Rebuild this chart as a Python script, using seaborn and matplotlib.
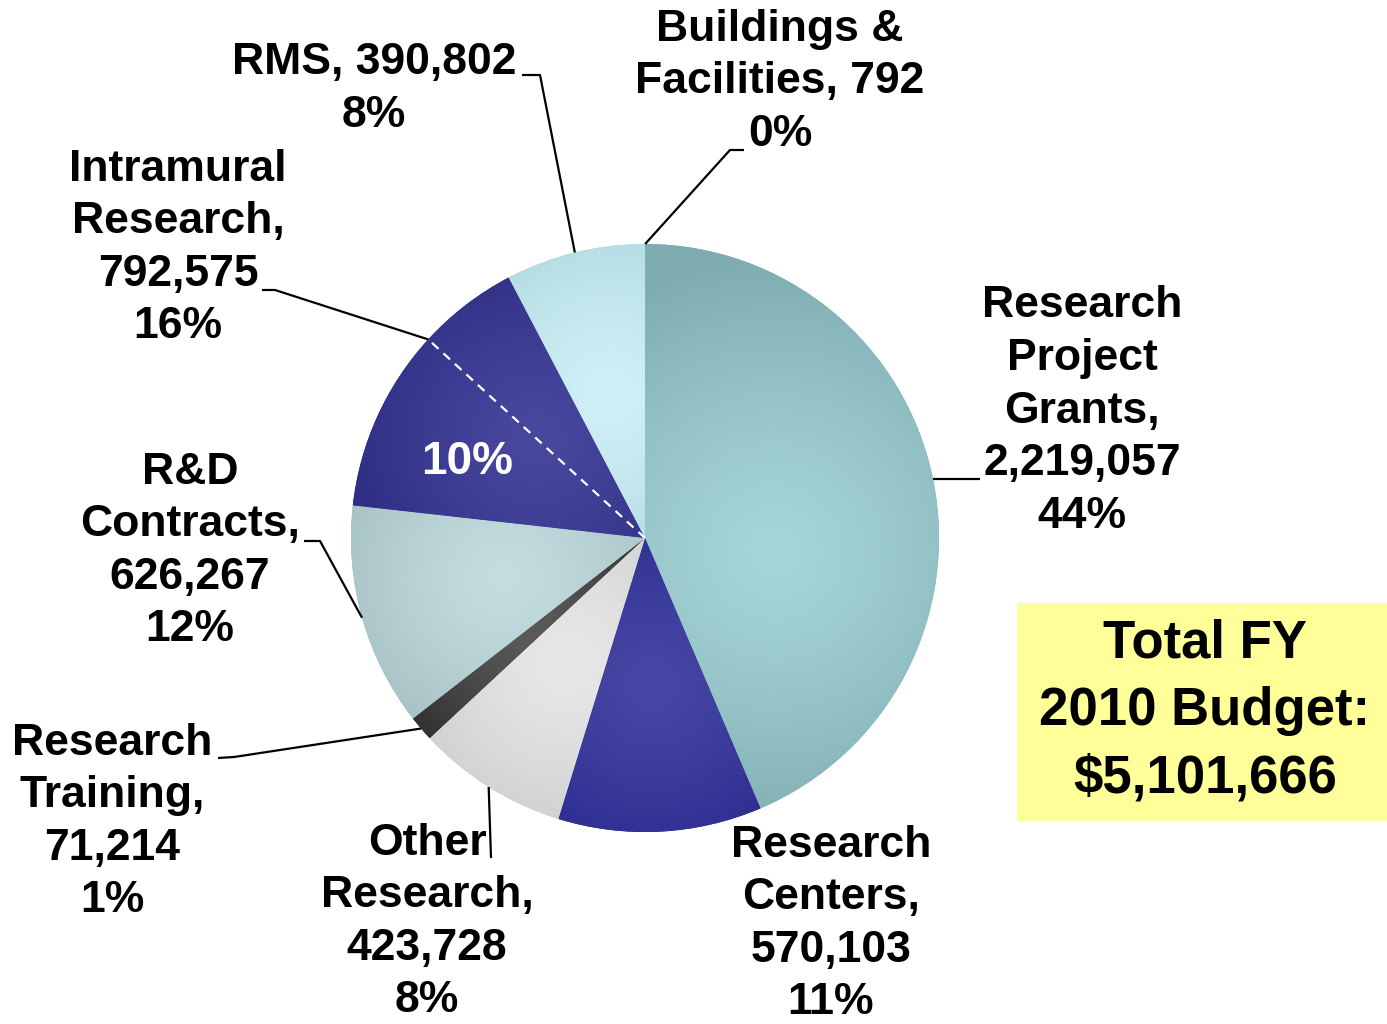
import numpy as np
import matplotlib
matplotlib.use("Agg")
import matplotlib.pyplot as plt
import matplotlib.colors as mcolors
import seaborn as sns

# ---- data ----
categories = ["Buildings & Facilities", "Research Project Grants", "Research Centers",
              "Other Research", "Research Training", "R&D Contracts",
              "Intramural Research", "RMS"]
values = [792, 2219057, 570103, 423728, 71214, 626267, 792575, 390802]
percents = ["0%", "44%", "11%", "8%", "1%", "12%", "16%", "8%"]
value_labels = ["792", "2,219,057", "570,103", "423,728", "71,214", "626,267", "792,575", "390,802"]
intramural_sub_value = 511000   # portion marked "10%" inside Intramural slice
intramural_sub_label = "10%"
total_text = "Total FY\n2010 Budget:\n$5,101,666"

# (light centre, dark edge) colours per slice
light_cols = ["#9494c4", "#a7d6da", "#4747a5", "#e8e8e8", "#5a5a5a", "#c4dde0", "#48489e", "#cff1f7"]
dark_cols = ["#8282b4", "#7eacb0", "#242489", "#c6c6c6", "#181818", "#9cb8bb", "#28287f", "#a8d2d8"]

sns.set_style("white")
plt.rcParams['font.family'] = ['Liberation Sans', 'DejaVu Sans']

W, H = 1387, 1024
fig = plt.figure(figsize=(W / 100, H / 100), dpi=100)
ax = fig.add_axes([0, 0, 1, 1])

cx, cy, R = 645, H - 538, 294

# split intramural into two wedges of the same colour
pie_vals = values[:6] + [intramural_sub_value, values[6] - intramural_sub_value, values[7]]
slice_idx = [0, 1, 2, 3, 4, 5, 6, 6, 7]
pie_cols = [dark_cols[k] for k in slice_idx]
wedges, _ = ax.pie(pie_vals, colors=pie_cols, startangle=90, counterclock=False,
                   center=(cx, cy), radius=R, wedgeprops=dict(linewidth=0, edgecolor="none"))
ax.set_xlim(0, W)
ax.set_ylim(0, H)
ax.set_aspect("equal")
ax.axis("off")

# radial gradient shading in every slice
n = 500
gx = np.linspace(cx - R, cx + R, n)
gy = np.linspace(cy - R, cy + R, n)
GX, GY = np.meshgrid(gx, gy)
for j, w in enumerate(wedges):
    k = slice_idx[j]
    if k == 6:
        t1, t2 = wedges[6].theta1, wedges[7].theta2
    else:
        t1, t2 = w.theta1, w.theta2
    a = np.deg2rad((t1 + t2) / 2)
    span = abs(t2 - t1)
    rad = 0.75 * R if span < 100 else 1.0 * R
    fr = 0.5 if span < 100 else 0.45
    fx, fy = cx + fr * R * np.cos(a), cy + fr * R * np.sin(a) - (40 if span >= 100 else 0)
    d = np.hypot(GX - fx, GY - fy) / rad
    t = np.clip(d, 0, 1) ** 1.3
    lc = np.array(mcolors.to_rgb(light_cols[k]))
    dc = np.array(mcolors.to_rgb(dark_cols[k]))
    img = lc[None, None, :] * (1 - t[..., None]) + dc[None, None, :] * t[..., None]
    im = ax.imshow(img, extent=(cx - R, cx + R, cy - R, cy + R), origin="lower",
                   interpolation="bilinear", zorder=1.5)
    im.set_clip_path(w)
ax.set_xlim(0, W)
ax.set_ylim(0, H)

# dashed divider inside intramural slice
w_sub = wedges[6]
ang = np.deg2rad(w_sub.theta1)
ax.plot([cx, cx + R * np.cos(ang)], [cy, cy + R * np.sin(ang)],
        color="white", lw=1.6, ls=(0, (4, 3)), zorder=5)
ang_mid = np.deg2rad((w_sub.theta1 + w_sub.theta2) / 2)
ax.text(cx + 0.60 * R * np.cos(ang_mid) - 17, cy + 0.60 * R * np.sin(ang_mid) + 3,
        intramural_sub_label, color="white", fontsize=33, fontweight="bold",
        ha="center", va="center", zorder=6)


def edge_point(i):
    if i == 6:
        a = np.deg2rad((wedges[6].theta1 + wedges[7].theta2) / 2)
    else:
        j = i if i < 6 else i + 1
        a = np.deg2rad((wedges[j].theta1 + wedges[j].theta2) / 2)
    return cx + R * np.cos(a), cy + R * np.sin(a)


# label layout: (center x, center y in pixels from top, leader path in pixels)
label_pos = {
    0: (780, 82, [(730, 150), (744, 150)]),
    1: (1082, 411, [(980, None)]),
    2: (831, 924, None),
    3: (427, 922, [(491, 858)]),
    4: (112, 822, [(234, 757), (218, 758)]),
    5: (190, 551, [(320, 541), (304, 541)]),
    6: (178, 248, [(275, 290), (262, 290)]),
    7: (374, 89, [(540, 75), (522, 75)]),
}

names = ["Buildings &\nFacilities, " + value_labels[0],
         "Research\nProject\nGrants,\n" + value_labels[1],
         "Research\nCenters,\n" + value_labels[2],
         "Other\nResearch,\n" + value_labels[3],
         "Research\nTraining,\n" + value_labels[4],
         "R&D\nContracts,\n" + value_labels[5],
         "Intramural\nResearch,\n" + value_labels[6],
         "RMS, " + value_labels[7]]

for i in range(8):
    x, ytop, path = label_pos[i]
    ax.text(x, H - ytop, names[i] + "\n" + percents[i], ha="center", va="center",
            fontsize=32, fontweight="bold", linespacing=1.36, color="black", zorder=7)
    if path:
        ex, ey = edge_point(i)
        xs, ys = [ex], [ey]
        for px, py in path:
            xs.append(px)
            ys.append(ey if py is None else H - py)
        ax.plot(xs, ys, color="black", lw=1.6, zorder=4, solid_capstyle="butt")

# total box
ax.add_patch(plt.Rectangle((1017, H - 821), 370, 218, facecolor="#ffff99",
                           edgecolor="none", zorder=3))
ax.text(1205, H - 711, total_text, ha="center", va="center", fontsize=38,
        fontweight="bold", linespacing=1.46, color="black", zorder=7)

fig.savefig("out.png", dpi=100)
